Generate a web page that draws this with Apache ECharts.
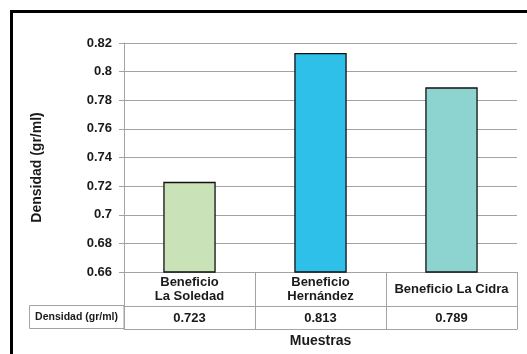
<!DOCTYPE html>
<html><head><meta charset="utf-8">
<script src="https://cdn.jsdelivr.net/npm/echarts@6/dist/echarts.min.js"></script>
<style>html,body{margin:0;padding:0;background:#fff}#c{width:527px;height:354px}</style>
</head><body><div id="c"></div>
<script>
var categories = ['Beneficio\nLa Soledad', 'Beneficio\nHernández', 'Beneficio La Cidra'];
var values = [0.723, 0.813, 0.789];
var valueLabels = ['0.723', '0.813', '0.789'];
var barColors = ['#C9E2B8', '#2EC0E8', '#8DD4D0'];
var yTicks = {min: 0.66, max: 0.82, interval: 0.02};
var rowLabel = 'Densidad (gr/ml)';
var yTitle = 'Densidad (gr/ml)';
var xTitle = 'Muestras';

var FONT = 'Liberation Sans, Arial, sans-serif';
var GRID = '#a3a3a3';
var chart = echarts.init(document.getElementById('c'), null, {renderer: 'canvas'});
chart.setOption({
  animation: false,
  backgroundColor: '#fff',
  textStyle: {fontFamily: FONT},
  grid: {left: 124, right: 10, top: 43, bottom: 82, containLabel: false, outerBoundsMode: 'none'},
  xAxis: [{
    type: 'category', data: categories, position: 'bottom',
    axisLine: {show: true, lineStyle: {color: GRID, width: 1}},
    axisTick: {show: true, interval: 0, length: 57, lineStyle: {color: GRID, width: 1}},
    axisLabel: {interval: 0, margin: 17, verticalAlign: 'middle', fontSize: 13, fontWeight: 'bold', color: '#1a1a1a', lineHeight: 14, fontFamily: FONT}
  }, {
    type: 'category', data: valueLabels, position: 'bottom', offset: 34,
    axisLine: {show: true, lineStyle: {color: GRID, width: 1}},
    axisTick: {show: false},
    axisLabel: {interval: 0, margin: 12, verticalAlign: 'middle', fontSize: 13, fontWeight: 'bold', color: '#1a1a1a', fontFamily: FONT}
  }, {
    type: 'category', data: valueLabels, position: 'bottom', offset: 57,
    axisLine: {show: true, lineStyle: {color: GRID, width: 1}},
    axisTick: {show: false}, axisLabel: {show: false},
    name: xTitle, nameLocation: 'middle', nameGap: 12,
    nameTextStyle: {fontSize: 14, fontWeight: 'bold', color: '#1a1a1a', fontFamily: FONT, verticalAlign: 'middle'}
  }],
  yAxis: {
    type: 'value', min: yTicks.min, max: yTicks.max, interval: yTicks.interval,
    axisLine: {show: true, lineStyle: {color: GRID, width: 1}},
    axisTick: {show: true, length: 5, lineStyle: {color: GRID}},
    splitLine: {show: true, lineStyle: {color: GRID, width: 1}},
    axisLabel: {margin: 12, fontSize: 13, fontWeight: 'bold', color: '#1a1a1a', fontFamily: FONT},
    name: yTitle, nameLocation: 'middle', nameRotate: 90, nameGap: 80,
    nameTextStyle: {fontSize: 14, fontWeight: 'bold', color: '#1a1a1a', fontFamily: FONT, padding: [0, 20, 0, 0]}
  },
  series: [{
    type: 'bar', xAxisIndex: 0,
    data: values.map(function (v, i) { return {value: v, itemStyle: {color: barColors[i]}}; }),
    barWidth: '40%',
    itemStyle: {borderColor: '#111', borderWidth: 1.3}
  }],
  graphic: [
    {type: 'rect', shape: {x: 11.5, y: 11.5, width: 700, height: 500}, style: {fill: null, stroke: '#000', lineWidth: 3}, z: 100},
    {type: 'rect', shape: {x: 29.5, y: 305.5, width: 94.5, height: 23}, style: {fill: '#fff', stroke: GRID, lineWidth: 1}},
    {type: 'text', x: 76.5, y: 317.5, style: {text: rowLabel, fill: '#1a1a1a', font: 'bold 10.5px ' + FONT, textAlign: 'center', textVerticalAlign: 'middle'}}
  ]
});
</script></body></html>
